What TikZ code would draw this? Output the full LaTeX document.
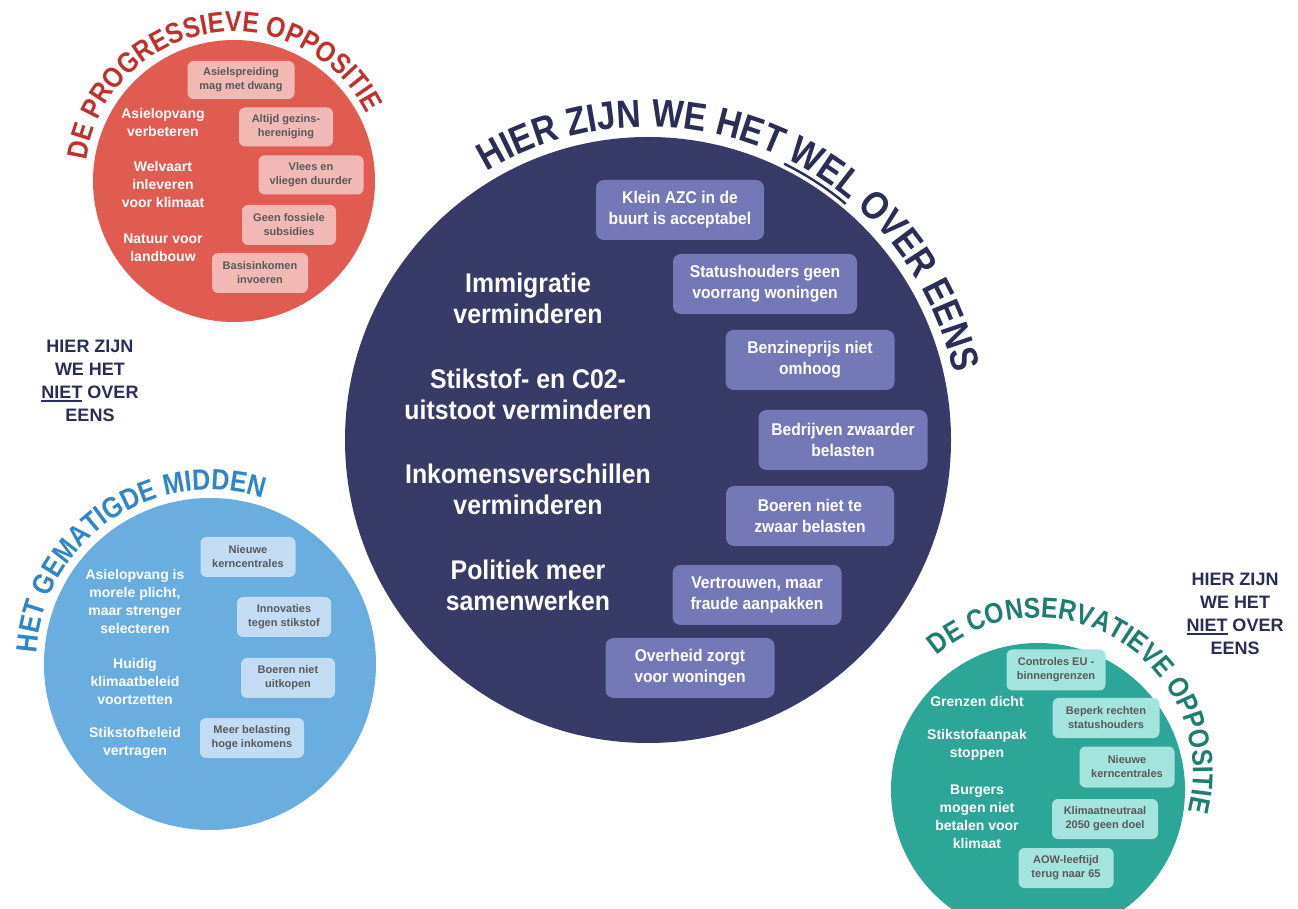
\documentclass[tikz,border=0pt]{standalone}
\usepackage{fontspec}
\setmainfont{Liberation Sans}
\newfontfamily\condf[FakeStretch=0.92]{Liberation Sans}
\newfontfamily\titlef[FakeStretch=0.86]{Liberation Sans}
\usetikzlibrary{decorations.text}
\definecolor{navyC}{HTML}{383B68}
\definecolor{navyB}{HTML}{7478B6}
\definecolor{navyT}{HTML}{2A2D55}
\definecolor{redC}{HTML}{E05B50}
\definecolor{redB}{HTML}{F2B9B4}
\definecolor{redT}{HTML}{C0312B}
\definecolor{blueC}{HTML}{6AADDF}
\definecolor{blueB}{HTML}{C2DDF3}
\definecolor{blueT}{HTML}{2E86C9}
\definecolor{tealC}{HTML}{2BA697}
\definecolor{tealB}{HTML}{A3E5DD}
\definecolor{tealT}{HTML}{1D7D6F}
\definecolor{greyT}{HTML}{585858}
\newcommand\myul[1]{\setbox0\hbox{#1}\rlap{\rule[-3.5pt]{\wd0}{1.8pt}}\box0\relax}
\tikzset{
  smallbox/.style={rounded corners=6pt, inner sep=0pt, align=center, text=greyT,
    font=\bfseries\fontsize{11}{14}\selectfont},
  redbox/.style={smallbox, fill=redB},
  bluebox/.style={smallbox, fill=blueB},
  tealbox/.style={smallbox, fill=tealB},
  navybox/.style={rounded corners=8pt, inner sep=0pt, align=center, fill=navyB, text=white,
    minimum width=169pt, minimum height=60pt, font=\condf\bfseries\fontsize{17}{21}\selectfont},
  whitetxt/.style={inner sep=0pt, align=center, text=white, font=\bfseries\fontsize{14}{18}\selectfont},
  bigtxt/.style={inner sep=0pt, align=center, text=white, font=\condf\bfseries\fontsize{27}{31}\selectfont},
  sidetxt/.style={inner sep=0pt, align=center, text=navyT, font=\bfseries\fontsize{18}{23}\selectfont},
}
\begin{document}
\begin{tikzpicture}[x=1pt,y=1pt]
\useasboundingbox (0,0) rectangle (1298,908);
% circles
\fill[redC] (234,727) circle[radius=141];
\fill[navyC] (648,468) circle[radius=303];
\fill[blueC] (210,244) circle[radius=166];
\fill[tealC] (1038,118) circle[radius=147];

% curved titles
\path[shift={(234,727)}, decorate, decoration={text along path, text color=redT,
  text={|\titlef\bfseries\fontsize{28.7}{30}\selectfont|DE PROGRESSIEVE OPPOSITIE}}]
  (172:149) arc[start angle=172, end angle=5, radius=149];
\path[shift={(648,468)}, decorate, decoration={text along path, text color=navyT,
  text={|\titlef\bfseries\fontsize{39.2}{40}\selectfont|HIER ZIJN WE HET WEL OVER EENS}}]
  (121:313) arc[start angle=121, end angle=0, radius=313];
\draw[navyT, line width=2.4pt, shift={(648,468)}] (63.76:308) arc[start angle=63.76, end angle=50.05, radius=308];
\path[shift={(210,244)}, decorate, decoration={text along path, text color=blueT,
  text={|\titlef\bfseries\fontsize{29.3}{30}\selectfont|HET GEMATIGDE MIDDEN}}]
  (176.4:174) arc[start angle=176.4, end angle=50, radius=174];
\path[shift={(1038,135)}, decorate, decoration={text along path, text color=tealT,
  text={|\titlef\bfseries\fontsize{28.7}{30}\selectfont|DE CONSERVATIEVE OPPOSITIE}}]
  (130.6:155) arc[start angle=130.6, end angle=-25, radius=155];

% red circle content
\node[whitetxt] (rt1) at (163,785) {Asielopvang\\verbeteren};
\node[whitetxt] (rt2) at (163,723) {Welvaart\\inleveren\\voor klimaat};
\node[whitetxt] (rt3) at (163,660) {Natuur voor\\landbouw};
\node[redbox, minimum width=107pt, minimum height=38pt] (rb1) at (241,828) {Asielspreiding\\mag met dwang};
\node[redbox, minimum width=94pt, minimum height=39pt] (rb2) at (286,781) {Altijd gezins-\\hereniging};
\node[redbox, minimum width=105pt, minimum height=39pt] (rb3) at (311,733) {Vlees en\\vliegen duurder};
\node[redbox, minimum width=94pt, minimum height=40pt] (rb4) at (289,683) {Geen fossiele\\subsidies};
\node[redbox, minimum width=96pt, minimum height=40pt] (rb5) at (260,635) {Basisinkomen\\invoeren};

% navy circle content
\node[bigtxt] (nt1) at (528,610) {Immigratie\\verminderen};
\node[bigtxt] (nt2) at (528,514) {Stikstof- en C02-\\uitstoot verminderen};
\node[bigtxt] (nt3) at (528,419) {Inkomensverschillen\\verminderen};
\node[bigtxt] (nt4) at (528,323) {Politiek meer\\samenwerken};
\node[navybox, minimum width=168pt] (nb1) at (680,698) {Klein AZC in de\\buurt is acceptabel};
\node[navybox, minimum width=184pt] (nb2) at (765,624) {Statushouders geen\\voorrang woningen};
\node[navybox] (nb3) at (810,548) {Benzineprijs niet\\omhoog};
\node[navybox] (nb4) at (843,468) {Bedrijven zwaarder\\belasten};
\node[navybox, minimum width=168pt] (nb5) at (810,392) {Boeren niet te\\zwaar belasten};
\node[navybox] (nb6) at (757,313) {Vertrouwen, maar\\fraude aanpakken};
\node[navybox] (nb7) at (690,240) {Overheid zorgt\\voor woningen};

% blue circle content
\node[whitetxt] (bt1) at (135,307) {Asielopvang is\\morele plicht,\\maar strenger\\selecteren};
\node[whitetxt] (bt2) at (135,227) {Huidig\\klimaatbeleid\\voortzetten};
\node[whitetxt] (bt3) at (135,165) {Stikstofbeleid\\vertragen};
\node[bluebox, minimum width=95pt, minimum height=40pt] (bb1) at (248,351) {Nieuwe\\kerncentrales};
\node[bluebox, minimum width=94pt, minimum height=40pt] (bb2) at (284,291) {Innovaties\\tegen stikstof};
\node[bluebox, minimum width=94pt, minimum height=40pt] (bb3) at (288,230) {Boeren niet\\uitkopen};
\node[bluebox, minimum width=104pt, minimum height=40pt] (bb4) at (252,170) {Meer belasting\\hoge inkomens};

% teal circle content
\node[whitetxt] (tt1) at (977,207) {Grenzen dicht};
\node[whitetxt] (tt2) at (977,163) {Stikstofaanpak\\stoppen};
\node[whitetxt] (tt3) at (977,91) {Burgers\\mogen niet\\betalen voor\\klimaat};
\node[tealbox, minimum width=99pt, minimum height=41pt] (tb1) at (1056,238) {Controles EU -\\binnengrenzen};
\node[tealbox, minimum width=107pt, minimum height=40pt] (tb2) at (1106,190) {Beperk rechten\\statushouders};
\node[tealbox, minimum width=95pt, minimum height=41pt] (tb3) at (1127,141) {Nieuwe\\kerncentrales};
\node[tealbox, minimum width=106pt, minimum height=40pt] (tb4) at (1105,89) {Klimaatneutraal\\2050 geen doel};
\node[tealbox, minimum width=95pt, minimum height=40pt] (tb5) at (1066,40) {AOW-leeftijd\\terug naar 65};

% side texts
\node[sidetxt] (sl) at (90,527) {HIER ZIJN\\WE HET\\\myul{NIET} OVER\\EENS};
\node[sidetxt] (sr) at (1235,294) {HIER ZIJN\\WE HET\\\myul{NIET} OVER\\EENS};
\end{tikzpicture}
\end{document}
